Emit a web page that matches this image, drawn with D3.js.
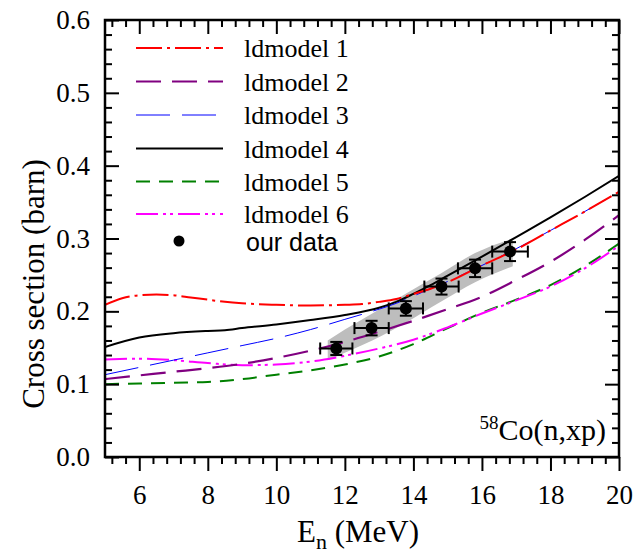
<!DOCTYPE html>
<html>
<head>
<meta charset="utf-8">
<script src="https://cdn.jsdelivr.net/npm/d3@7"></script>
<style>
  html, body { margin: 0; padding: 0; background: #fff; }
  svg { display: block; }
</style>
</head>
<body>
<svg id="chart" width="635" height="556"></svg>
<script>
// ---- data ----
const energyGrid = [5,6,7,8,9,10,11,12,13,14,15,16,17,18,19,20];
const ldmodel1 = [[5,0.209],[5.5,0.218],[6,0.222],[6.5,0.223],[7,0.222],[7.5,0.219],[8,0.216],[8.5,0.213],[9,0.211],[10,0.209],[11,0.208],[12,0.209],[12.5,0.210],[13,0.213],[13.5,0.217],[14,0.224],[14.5,0.231],[15,0.240],[16,0.263],[17,0.285],[18,0.311],[19,0.337],[20,0.364]];
const ldmodel2 = [0.107,0.112,0.117,0.122,0.128,0.136,0.146,0.158,0.172,0.187,0.203,0.220,0.243,0.268,0.298,0.332];
const ldmodel3 = [[5,0.113],[6,0.123],[7,0.133],[8,0.143],[9,0.153],[10,0.163],[11,0.175],[12,0.189],[13,0.203],[13.5,0.211],[14,0.221],[14.5,0.231],[15,0.241],[16,0.263],[17,0.286],[18,0.311],[19,0.337],[20,0.364]];
const ldmodel4 = [[5,0.151],[6,0.164],[7,0.170],[8,0.173],[8.5,0.174],[9,0.177],[10,0.182],[11,0.188],[12,0.195],[13,0.205],[13.5,0.213],[14,0.224],[14.5,0.236],[15,0.249],[16,0.275],[17,0.302],[18,0.329],[19,0.357],[20,0.386]];
const ldmodel5 = [0.100,0.101,0.102,0.103,0.107,0.113,0.119,0.127,0.138,0.155,0.177,0.198,0.216,0.236,0.262,0.293];
const ldmodel6 = [0.134,0.135,0.133,0.129,0.126,0.127,0.131,0.139,0.149,0.161,0.178,0.197,0.215,0.234,0.259,0.290];

const dataE    = [11.75, 12.78, 13.78, 14.82, 15.80, 16.82];
const dataSig  = [0.149, 0.177, 0.204, 0.234, 0.259, 0.282];
const dataEErr = [0.47, 0.50, 0.50, 0.50, 0.50, 0.52];
const dataSErr = [0.009, 0.010, 0.010, 0.011, 0.012, 0.013];

const bandE     = [11.5, 12.0, 12.8, 13.8, 14.8, 15.8, 16.9];
const bandUpper = [0.160, 0.175, 0.197, 0.225, 0.252, 0.280, 0.300];
const bandLower = [0.133, 0.143, 0.160, 0.185, 0.213, 0.240, 0.262];

const xTicks = [6,8,10,12,14,16,18,20];
const yTicks = [0.0,0.1,0.2,0.3,0.4,0.5,0.6];
const legendLabels = ["ldmodel 1","ldmodel 2","ldmodel 3","ldmodel 4","ldmodel 5","ldmodel 6"];

// ---- layout ----
const svg = d3.select("#chart");
const L = 105, R = 619, T = 20, B = 457;
const x = d3.scaleLinear().domain([5, 20]).range([L, R]);
const y = d3.scaleLinear().domain([0, 0.6]).range([B, T]);
const serif = "'Liberation Serif','Times New Roman',serif";

svg.append("defs").append("clipPath").attr("id", "clip")
  .append("rect").attr("x", L).attr("y", T).attr("width", R - L).attr("height", B - T);

const plot = svg.append("g").attr("clip-path", "url(#clip)");

// band
const bandPts = bandE.map((e, i) => ({e, lo: bandLower[i], hi: bandUpper[i]}));
plot.append("path").datum(bandPts)
  .attr("fill", "#bdbdbd")
  .attr("d", d3.area().x(d => x(d.e)).y0(d => y(d.lo)).y1(d => y(d.hi)).curve(d3.curveMonotoneX));

const styles = [
  {data: ldmodel1, color: "#ff0000", w: 2, dash: "26,5,3,5"},
  {data: energyGrid.map((e,i)=>[e, ldmodel2[i]]), color: "#800080", w: 2.2, dash: "25,11"},
  {data: ldmodel3, color: "#0000ff", w: 1, dash: "34,12"},
  {data: ldmodel4, color: "#000000", w: 2, dash: null},
  {data: energyGrid.map((e,i)=>[e, ldmodel5[i]]), color: "#008000", w: 2, dash: "14,9"},
  {data: energyGrid.map((e,i)=>[e, ldmodel6[i]]), color: "#ff00ff", w: 2, dash: "22,5,3,4,3,5"}
];
const line = d3.line().x(d => x(d[0])).y(d => y(d[1])).curve(d3.curveMonotoneX);
[4,5,1,3,2,0].forEach(i => {
  const s = styles[i];
  plot.append("path").datum(s.data)
    .attr("fill", "none").attr("stroke", s.color).attr("stroke-width", s.w)
    .attr("stroke-dasharray", s.dash)
    .attr("d", line);
});

// data points with error bars
const pts = dataE.map((e, i) => ({e, s: dataSig[i], ex: dataEErr[i], es: dataSErr[i]}));
const eb = svg.append("g").attr("stroke", "#000").attr("stroke-width", 2);
pts.forEach(p => {
  const cx = x(p.e), cy = y(p.s);
  const x0 = x(p.e - p.ex), x1 = x(p.e + p.ex);
  const y0 = y(p.s - p.es), y1 = y(p.s + p.es);
  eb.append("line").attr("x1", x0).attr("x2", x1).attr("y1", cy).attr("y2", cy);
  eb.append("line").attr("x1", x0).attr("x2", x0).attr("y1", cy - 6).attr("y2", cy + 6);
  eb.append("line").attr("x1", x1).attr("x2", x1).attr("y1", cy - 6).attr("y2", cy + 6);
  eb.append("line").attr("x1", cx).attr("x2", cx).attr("y1", y0).attr("y2", y1);
  eb.append("line").attr("x1", cx - 6).attr("x2", cx + 6).attr("y1", y0).attr("y2", y0);
  eb.append("line").attr("x1", cx - 6).attr("x2", cx + 6).attr("y1", y1).attr("y2", y1);
});
svg.append("g").selectAll("circle").data(pts).join("circle")
  .attr("cx", d => x(d.e)).attr("cy", d => y(d.s)).attr("r", 6).attr("fill", "#000");

// ---- axes ----
const xMinor = d3.range(5.2, 20.0001, 0.4).filter(v => Math.abs((v - 6) / 2 - Math.round((v - 6) / 2)) > 1e-6);
const yMinor = d3.range(0.02, 0.6, 0.02).filter(v => Math.abs(v * 10 - Math.round(v * 10)) > 1e-6);

function styleAxis(g) {
  g.select(".domain").remove();
  g.selectAll("line").attr("stroke", "#000").attr("stroke-width", 2);
  g.selectAll("text").attr("font-family", serif).attr("font-size", 27).attr("fill", "#000");
}
svg.append("g").attr("transform", `translate(0,${B})`)
  .call(d3.axisBottom(x).tickValues(xTicks).tickSize(14).tickPadding(14).tickFormat(d3.format("d")))
  .call(styleAxis);
svg.append("g").attr("transform", `translate(0,${B})`)
  .call(d3.axisBottom(x).tickValues(xMinor).tickSize(7).tickFormat(""))
  .call(styleAxis);
svg.append("g").attr("transform", `translate(0,${T})`)
  .call(d3.axisBottom(x).tickValues(xTicks).tickSize(14).tickFormat(""))
  .call(styleAxis);
svg.append("g").attr("transform", `translate(0,${T})`)
  .call(d3.axisBottom(x).tickValues(xMinor).tickSize(7).tickFormat(""))
  .call(styleAxis);
svg.append("g").attr("transform", `translate(${L},0)`)
  .call(d3.axisLeft(y).tickValues(yTicks).tickSizeInner(-14).tickSizeOuter(0).tickPadding(15).tickFormat(d3.format(".1f")))
  .call(styleAxis);
svg.append("g").attr("transform", `translate(${L},0)`)
  .call(d3.axisLeft(y).tickValues(yMinor).tickSizeInner(-7).tickSizeOuter(0).tickFormat(""))
  .call(styleAxis);
svg.append("g").attr("transform", `translate(${R},0)`)
  .call(d3.axisLeft(y).tickValues(yTicks).tickSizeInner(14).tickSizeOuter(0).tickFormat(""))
  .call(styleAxis);
svg.append("g").attr("transform", `translate(${R},0)`)
  .call(d3.axisLeft(y).tickValues(yMinor).tickSizeInner(7).tickSizeOuter(0).tickFormat(""))
  .call(styleAxis);

// frame
svg.append("rect").attr("x", L).attr("y", T).attr("width", R - L).attr("height", B - T)
  .attr("fill", "none").attr("stroke", "#000").attr("stroke-width", 2.5);

// axis titles
const xt = svg.append("text").attr("x", 358).attr("y", 542).attr("text-anchor", "middle")
  .attr("font-family", serif).attr("font-size", 31).attr("fill", "#000");
xt.append("tspan").text("E");
xt.append("tspan").attr("font-size", 22).attr("dy", 7).text("n");
xt.append("tspan").attr("dy", -7).text(" (MeV)");

svg.append("text").attr("transform", "translate(44,284) rotate(-90)")
  .attr("text-anchor", "middle").attr("font-family", serif).attr("font-size", 31).attr("fill", "#000")
  .text("Cross section (barn)");

// reaction label
const rl = svg.append("text").attr("x", 606).attr("y", 440).attr("text-anchor", "end")
  .attr("font-family", serif).attr("font-size", 30).attr("fill", "#000");
rl.append("tspan").attr("font-size", 19).attr("dy", -11).text("58");
rl.append("tspan").attr("dy", 11).text("Co(n,xp)");

// legend
const lg = svg.append("g");
const legY = [48, 81.5, 115, 148.5, 181.5, 214];
styles.forEach((s, i) => {
  lg.append("line").attr("x1", 136).attr("x2", 223).attr("y1", legY[i]).attr("y2", legY[i])
    .attr("stroke", s.color).attr("stroke-width", s.w).attr("stroke-dasharray", s.dash);
  lg.append("text").attr("x", 244).attr("y", legY[i] + 9)
    .attr("font-family", serif).attr("font-size", 26).attr("fill", "#000").text(legendLabels[i]);
});
lg.append("circle").attr("cx", 179).attr("cy", 241).attr("r", 5.5).attr("fill", "#000");
lg.append("text").attr("x", 246).attr("y", 251)
  .attr("font-family", "'Liberation Sans',Arial,sans-serif").attr("font-size", 25).attr("fill", "#000").text("our data");
</script>
</body>
</html>
